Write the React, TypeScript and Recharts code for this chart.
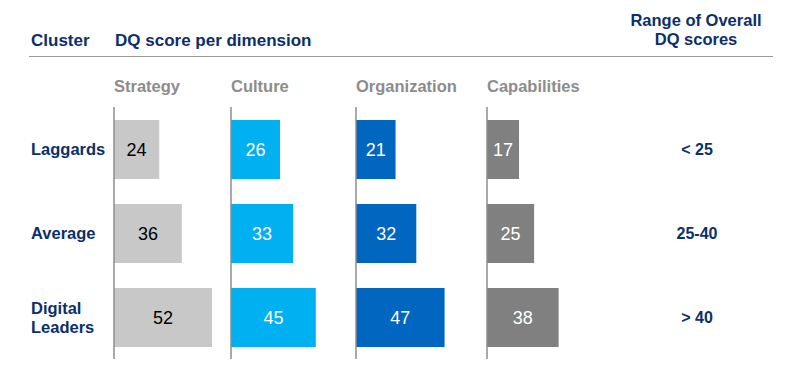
import { BarChart, Bar, XAxis, YAxis, LabelList, ReferenceLine } from 'recharts';

const clusters = ['Laggards', 'Average', 'Digital Leaders'];
const dimensions = ['Strategy', 'Culture', 'Organization', 'Capabilities'];
const strategy = [24, 36, 52];
const culture = [26, 33, 45];
const organization = [21, 32, 47];
const capabilities = [17, 25, 38];
const ranges = ['< 25', '25-40', '> 40'];

const FONT = '"Liberation Sans", Arial, sans-serif';
const NAVY = '#0b2f6b';
const GREY_TEXT = '#8c8c8c';

const panels = [
  { name: dimensions[0], values: strategy, color: '#c8c8c8', text: '#000000', left: 114 },
  { name: dimensions[1], values: culture, color: '#00b0f0', text: '#ffffff', left: 231 },
  { name: dimensions[2], values: organization, color: '#0066c0', text: '#ffffff', left: 356 },
  { name: dimensions[3], values: capabilities, color: '#808080', text: '#ffffff', left: 487 },
];

const rowCenters = [150, 234, 318];

const bold = (extra: React.CSSProperties): React.CSSProperties => ({
  position: 'absolute',
  fontFamily: FONT,
  fontWeight: 700,
  fontSize: 16.5,
  lineHeight: '19px',
  whiteSpace: 'nowrap',
  ...extra,
});

function Panel({ values, color, text }: { values: number[]; color: string; text: string }) {
  const data = clusters.map((cluster, i) => ({ cluster, value: values[i] }));
  return (
    <BarChart
      width={116}
      height={252}
      data={data}
      layout="vertical"
      margin={{ top: 0, right: 0, bottom: 0, left: 2 }}
      barCategoryGap={12}
      style={{ fontFamily: FONT }}
    >
      <XAxis type="number" domain={[0, 60.5]} hide />
      <YAxis type="category" dataKey="cluster" hide />
      <Bar dataKey="value" fill={color} barSize={59} isAnimationActive={false}>
        <LabelList dataKey="value" position="center" fill={text} fontSize={18} fontFamily={FONT} />
      </Bar>
      <ReferenceLine x={0} stroke="#8c8c8c" strokeWidth={1.5} ifOverflow="visible" />
    </BarChart>
  );
}

export default function App() {
  return (
    <div
      style={{
        position: 'absolute',
        left: 0,
        top: 0,
        width: 800,
        height: 375,
        background: '#ffffff',
        overflow: 'hidden',
      }}
    >
      <div style={bold({ left: 31, top: 31, color: NAVY, fontSize: 17 })}>Cluster</div>
      <div style={bold({ left: 115, top: 31, color: NAVY, fontSize: 17 })}>DQ score per dimension</div>
      <div style={bold({ left: 596, top: 11, width: 200, textAlign: 'center', color: NAVY, fontSize: 16.5 })}>
        Range of Overall
        <br />
        DQ scores
      </div>
      <div style={{ position: 'absolute', left: 29, top: 56, width: 744, height: 1, background: '#9a9a9a' }} />

      {panels.map((p) => (
        <div key={p.name} style={bold({ left: p.left, top: 77, color: GREY_TEXT })}>
          {p.name}
        </div>
      ))}

      {clusters.map((c, i) => (
        <div
          key={c}
          style={bold({
            left: 31,
            top: rowCenters[i] - (c === 'Digital Leaders' ? 19 : 10),
            color: NAVY,
            whiteSpace: 'normal',
            width: 80,
          })}
        >
          {c === 'Digital Leaders' ? (
            <>
              Digital
              <br />
              Leaders
            </>
          ) : (
            c
          )}
        </div>
      ))}

      {ranges.map((r, i) => (
        <div
          key={r}
          style={bold({ left: 597, top: rowCenters[i] - 10, width: 200, textAlign: 'center', color: NAVY, fontSize: 16 })}
        >
          {r}
        </div>
      ))}

      {panels.map((p) => (
        <div key={p.name + '-chart'} style={{ position: 'absolute', left: p.left - 2, top: 107 }}>
          <Panel values={p.values} color={p.color} text={p.text} />
        </div>
      ))}
    </div>
  );
}
